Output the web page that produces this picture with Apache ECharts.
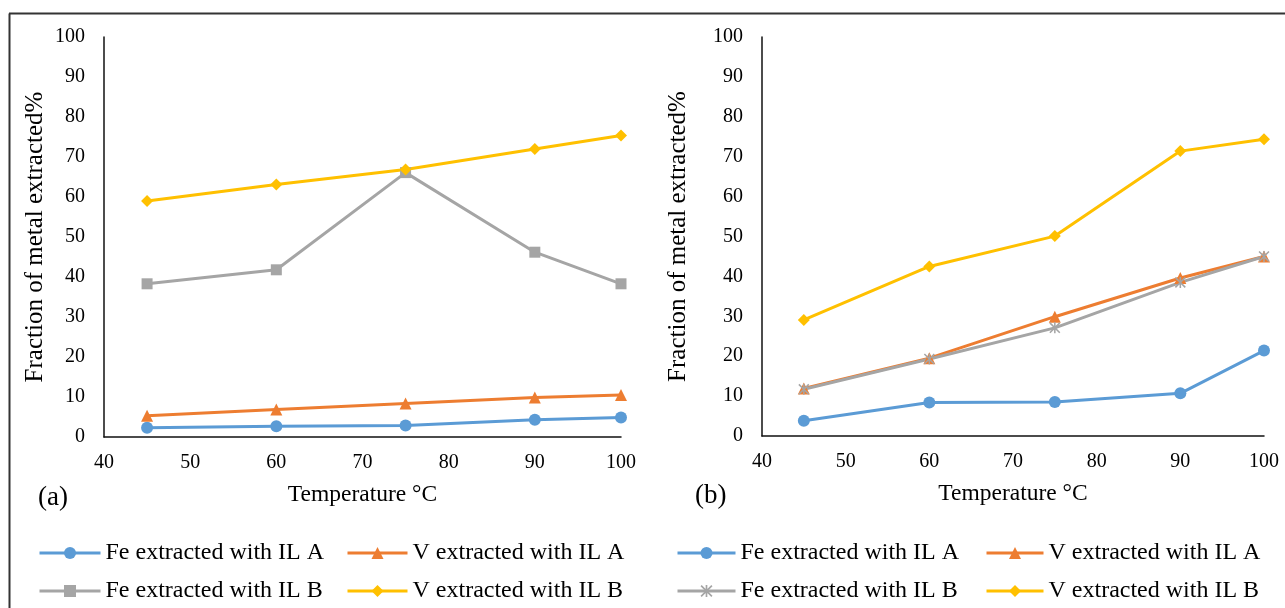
<!DOCTYPE html>
<html>
<head>
<meta charset="utf-8">
<script src="https://cdn.jsdelivr.net/npm/echarts@6/dist/echarts.min.js"></script>
<style>
html,body{margin:0;padding:0;background:#fff;}
#chart{width:1285px;height:608px;}
</style>
</head>
<body>
<div id="chart"></div>
<script>
// ---- data ----
const temps = [45, 60, 75, 90, 100];
const xTicks = [40, 50, 60, 70, 80, 90, 100];
const yTicks = [0, 10, 20, 30, 40, 50, 60, 70, 80, 90, 100];
const seriesNames = ['Fe extracted with IL A', 'V extracted with IL A', 'Fe extracted with IL B', 'V extracted with IL B'];
// panel (a)
const aFeA = [2.3, 2.7, 2.9, 4.3, 4.9];
const aVA  = [5.3, 6.9, 8.4, 9.9, 10.5];
const aFeB = [38.3, 41.8, 66.1, 46.2, 38.3];
const aVB  = [59.0, 63.1, 66.9, 72.0, 75.4];
// panel (b)
const bFeA = [3.8, 8.4, 8.5, 10.7, 21.4];
const bVA  = [11.9, 19.5, 29.9, 39.6, 45.0];
const bFeB = [11.7, 19.3, 27.1, 38.5, 45.0];
const bVB  = [29.1, 42.5, 50.1, 71.4, 74.4];
const panelLabels = ['(a)', '(b)'];
const xName = 'Temperature °C';
const yName = 'Fraction of metal extracted%';

// ---- styling ----
const FONT = 'Liberation Serif';
const colors = ['#5B9BD5', '#ED7D31', '#A5A5A5', '#FFC000'];
const asterisk = 'path://M4.3,0 H5.7 V10 H4.3 Z M0,1 L1,0 L10,9 L9,10 Z M9,0 L10,1 L1,10 L0,9 Z';
const symA = [['circle', 12], ['triangle', 12], ['rect', 11], ['diamond', 12]];
const symB = [['circle', 12], ['triangle', 12], [asterisk, 11], ['diamond', 12]];

function pairs(vals) { return temps.map((t, i) => [t, vals[i]]); }

function mkSeries(prefix, idx, vals, sym) {
  return {
    name: prefix + '|' + seriesNames[idx],
    type: 'line',
    xAxisIndex: prefix === 'a' ? 0 : 1,
    yAxisIndex: prefix === 'a' ? 0 : 1,
    data: pairs(vals),
    symbol: sym[idx][0],
    symbolSize: sym[idx][1],
    showSymbol: true,
    lineStyle: { width: 3, color: colors[idx] },
    itemStyle: { color: colors[idx] },
    emphasis: { disabled: true },
    animation: false
  };
}

const series = [
  mkSeries('a', 0, aFeA, symA), mkSeries('a', 1, aVA, symA), mkSeries('a', 2, aFeB, symA), mkSeries('a', 3, aVB, symA),
  mkSeries('b', 0, bFeA, symB), mkSeries('b', 1, bVA, symB), mkSeries('b', 2, bFeB, symB), mkSeries('b', 3, bVB, symB)
];

function xAxis(gi, nameGap) {
  return {
    gridIndex: gi, type: 'value', min: xTicks[0], max: xTicks[xTicks.length - 1], interval: 10,
    name: xName, nameLocation: 'middle', nameGap: nameGap,
    nameTextStyle: { fontFamily: FONT, fontSize: 23.5, color: '#000' },
    axisLine: { show: true, onZero: false, lineStyle: { color: '#111', width: 1.5 } },
    axisTick: { show: false }, splitLine: { show: false },
    axisLabel: { fontFamily: FONT, fontSize: 20, color: '#000', margin: 16 }
  };
}
function yAxis(gi, nameGap) {
  return {
    gridIndex: gi, type: 'value', min: yTicks[0], max: yTicks[yTicks.length - 1], interval: 10,
    name: yName, nameLocation: 'middle', nameGap: nameGap,
    nameTextStyle: { fontFamily: FONT, fontSize: 25, color: '#000' },
    axisLine: { show: true, onZero: false, lineStyle: { color: '#111', width: 1.5 } },
    axisTick: { show: false }, splitLine: { show: false },
    axisLabel: { fontFamily: FONT, fontSize: 20, color: '#000', margin: 19 }
  };
}

function legendItem(prefix, idx, left, top, width) {
  return {
    data: [prefix + '|' + seriesNames[idx]],
    left: left, top: top, padding: 0,
    itemWidth: width, itemHeight: 15, itemGap: 0,
    selectedMode: false,
    formatter: n => n.split('|')[1],
    lineStyle: { width: 3 },
    textStyle: { fontFamily: FONT, fontSize: 24, color: '#000' }
  };
}
const row1 = 541, row2 = 579;
const legends = [
  legendItem('a', 0, 38, row1, 61), legendItem('a', 1, 346, row1, 60),
  legendItem('a', 2, 38, row2, 61), legendItem('a', 3, 346, row2, 60),
  legendItem('b', 0, 676, row1, 58), legendItem('b', 1, 985, row1, 57),
  legendItem('b', 2, 676, row2, 58), legendItem('b', 3, 985, row2, 57)
];

const chart = echarts.init(document.getElementById('chart'), null, { renderer: 'canvas' });
chart.setOption({
  backgroundColor: '#fff',
  animation: false,
  grid: [
    { left: 104, top: 37, width: 517, height: 400 },
    { left: 762, top: 37, width: 502, height: 399 }
  ],
  xAxis: [xAxis(0, 46), xAxis(1, 46)],
  yAxis: [yAxis(0, 56), yAxis(1, 71)],
  legend: legends,
  series: series,
  graphic: [
    { type: 'line', shape: { x1: 9.5, y1: 13.5, x2: 9.5, y2: 608 }, style: { stroke: '#333', lineWidth: 2 } },
    { type: 'line', shape: { x1: 9, y1: 13.5, x2: 1285, y2: 13.5 }, style: { stroke: '#333', lineWidth: 2 } },
    { type: 'text', left: 38, top: 484, style: { text: panelLabels[0], font: '27px "Liberation Serif"', fill: '#000' } },
    { type: 'text', left: 695, top: 482, style: { text: panelLabels[1], font: '27px "Liberation Serif"', fill: '#000' } }
  ]
});
</script>
</body>
</html>
